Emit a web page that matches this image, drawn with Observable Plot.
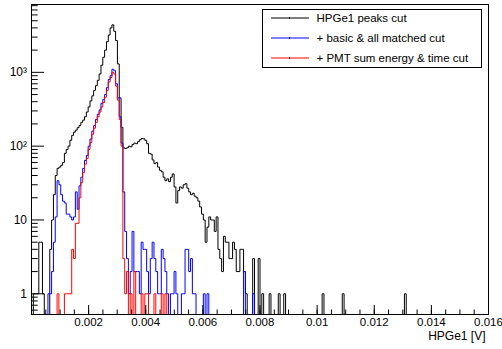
<!DOCTYPE html>
<html><head><meta charset="utf-8">
<script src="https://cdn.jsdelivr.net/npm/d3@7"></script>
<script src="https://cdn.jsdelivr.net/npm/@observablehq/plot@0.6"></script>
<style>body{margin:0;background:#fff;}</style>
</head><body><div id="chart"></div>
<script>
// Histogram range and binning
const xMin = 0, xMax = 0.016, nBins = 250;
const yMin = 0.524, yMax = 8300;
const seriesNames = ["HPGe1 peaks cut", "+ basic & all matched cut", "+ PMT sum energy & time cut"];
const seriesColors = ["#000000", "#0000ff", "#ff0000"];

const blackCounts = [
0,1,1,1,5,5,1,0,0,0, 4,10,22,40,50,52,55,60,80,90,
100,120,140,155,165,178,190,210,225,250, 290,340,410,480,570,660,780,950,1250,1600,
2000,2600,3200,4000,4400,3600,2700,1300,450,180, 95,93,95,100,98,105,110,108,115,122,
127,126,120,108,80,78,65,58,60,52, 47,45,38,34,36,33,38,42,28,17,
25,28,27,30,31,27,24,22,23,21, 20,18,15,12,10,5,8,11,10,10,
7,11,4,3,2,6,5,5,3,3, 5,4,2,2,4,4,2,1,0,0,
0,3,0,0,3,0,1,0,0,0, 1,0,0,0,0,1,0,0,1,0,
0,0,0,0,0,0,0,0,0,0, 0,0,0,0,0,0,0,0,0,1,
0,0,0,0,0,0,0,0,0,0, 1,0,0,0,0,0,0,0,0,0,
0,0,0,0,0,0,0,0,0,0, 0,0,0,0,0,0,0,0,0,0,
0,0,0,0,1,0,0,0,0,0, 0,0,0,0,0,0,0,0,0,0,
0,0,0,0,0,0,0,0,0,0, 0,0,0,0,0,0,0,0,0,0,
0,0,0,0,0,0,0,0,0,0];

const blueCounts = [
0,0,0,0,0,0,0,0,0,1, 1,2,5,11,34,30,22,18,17,12,
12,11,10,11,24,14,29,38,50,64, 75,100,125,160,190,230,270,310,380,430,
500,620,800,900,1100,1050,700,450,250,110, 24,7,3,1,2,7,2,2,2,1,
5,4,4,2,1,3,5,3,2,1, 1,4,3,2,1,0,1,1,2,1,
0,0,1,1,4,4,2,3,1,1, 0,0,0,0,1,0,1,0,0,0,
0,0,0,0,0,0,0,0,0,0, 0,0,0,0,0,0,2,0,0,0,
0,1,0,0,0,0,0,0,0,0, 0,0,0,0,0,0,0,0,0,0,
0,0,0,0,0,0,0,0,0,0, 0,0,0,0,0,0,0,0,0,0,
0,0,0,0,0,0,0,0,0,0, 0,0,0,0,0,0,0,0,0,0,
0,0,0,0,0,0,0,0,0,0, 0,0,0,0,0,0,0,0,0,0,
0,0,0,0,0,0,0,0,0,0, 0,0,0,0,0,0,0,0,0,0,
0,0,0,0,0,0,0,0,0,0, 0,0,0,0,0,0,0,0,0,0,
0,0,0,0,0,0,0,0,0,0];

const redCounts = [
0,0,0,0,0,0,0,0,0,0, 0,0,0,0,1,0,0,0,1,1,
1,1,4,3,9,9,20,32,44,57, 68,90,112,145,175,210,250,290,340,390,
460,570,740,850,1000,950,650,420,230,100, 3,1,2,0,1,0,2,0,0,0,
1,0,1,1,0,0,0,1,0,0, 0,1,0,1,0,0,0,0,0,0,
0,0,0,0,0,0,0,0,0,0, 0,0,0,0,0,0,0,0,0,0,
0,0,0,0,0,0,0,0,0,0, 0,0,0,0,0,0,0,0,0,0,
0,0,0,0,0,0,0,0,0,0, 0,0,0,0,0,0,0,0,0,0,
0,0,0,0,0,0,0,0,0,0, 0,0,0,0,0,0,0,0,0,0,
0,0,0,0,0,0,0,0,0,0, 0,0,0,0,0,0,0,0,0,0,
0,0,0,0,0,0,0,0,0,0, 0,0,0,0,0,0,0,0,0,0,
0,0,0,0,0,0,0,0,0,0, 0,0,0,0,0,0,0,0,0,0,
0,0,0,0,0,0,0,0,0,0, 0,0,0,0,0,0,0,0,0,0,
0,0,0,0,0,0,0,0,0,0];

const xTickLabels = [0.002, 0.004, 0.006, 0.008, 0.01, 0.012, 0.014, 0.016];
const xMinorTicks = d3.range(0, 33).map(i => i * 0.0005);
const yTickLabels = [1, 10, 100, 1000];
const yTickText = ["1", "10", "10\u00B2", "10\u00B3"];
const yMinorTicks = [0.6,0.7,0.8,0.9].concat(...[1,10,100,1000].map(d => [2,3,4,5,6,7,8,9].map(k => k*d))).filter(v => v < yMax);
const xTitle = "HPGe1 [V]";

const bw = (xMax - xMin) / nBins;
function toSteps(counts, s) {
  const rows = counts.map((c, i) => ({x: xMin + i * bw, y: c > 0 ? c : yMin, s}));
  rows.push({x: xMax, y: rows[rows.length - 1].y, s});
  return rows;
}
const allSeries = [blackCounts, blueCounts, redCounts].map((c, k) => toSteps(c, k));

const W = 502, H = 349;
const plot = Plot.plot({
  width: W, height: H,
  marginLeft: 31, marginRight: 14, marginTop: 4, marginBottom: 35,
  style: {fontFamily: "'Liberation Sans', Arial, sans-serif", fontSize: "11.5px", background: "#fff", color: "#000"},
  x: {type: "linear", domain: [xMin, xMax], label: null},
  y: {type: "log", domain: [yMin, yMax], label: null},
  marks: [
    Plot.frame({stroke: "#000", strokeWidth: 1}),
    ...allSeries.map((rows, k) => Plot.line(rows, {x: "x", y: "y", curve: "step-after", stroke: seriesColors[k], strokeWidth: 1, clip: true})),
    Plot.axisX({ticks: xMinorTicks, tickSize: -4.5, tickFormat: () => "", stroke: "#000", label: null}),
    Plot.axisX({ticks: xTickLabels, tickSize: -9, tickFormat: () => "", stroke: "#000", label: null}),
    Plot.axisX({ticks: xTickLabels, tickSize: 0, tickPadding: 3, tickFormat: d => String(+d.toFixed(4)), fill: "#000", label: null}),
    Plot.axisY({ticks: yMinorTicks, tickSize: -6.7, tickFormat: () => "", stroke: "#000", label: null}),
    Plot.axisY({ticks: yTickLabels, tickSize: -13, tickFormat: () => "", stroke: "#000", label: null}),
    Plot.axisY({ticks: yTickLabels, tickSize: 0, tickPadding: 4.5, tickFormat: d => yTickText[yTickLabels.indexOf(d)], fill: "#000", fontSize: 12, label: null}),
    Plot.text([xTitle], {frameAnchor: "bottom-right", dx: -3, dy: 21.5, lineAnchor: "middle", textAnchor: "end", fontSize: 12, fill: "#000"})
  ]
});
document.getElementById("chart").appendChild(plot);

// Legend box (ROOT TLegend style)
const svg = d3.select(plot);
const lg = svg.append("g").attr("class", "legend").attr("text-anchor", "start");
lg.append("rect").attr("x", 262.5).attr("y", 9.5).attr("width", 219).attr("height", 58)
  .attr("fill", "#fff").attr("stroke", "#000").attr("stroke-width", 1);
const rowsY = [18, 38, 58];
seriesNames.forEach((name, k) => {
  const y = rowsY[k];
  lg.append("path").attr("d", `M271,${y}H309`).attr("fill", "none")
    .style("stroke", seriesColors[k]).style("stroke-width", "1.2px");
  lg.append("path").attr("d", `M289.5,${y - 1}V${y + 1}`).attr("fill", "none")
    .style("stroke", "#000").style("stroke-width", "1px");
  lg.append("text").attr("x", 316.5).attr("y", y).attr("dy", "0.35em").attr("text-anchor", "start")
    .attr("font-size", "11.5px").attr("fill", "#000").text(name);
});
</script>
</body></html>
